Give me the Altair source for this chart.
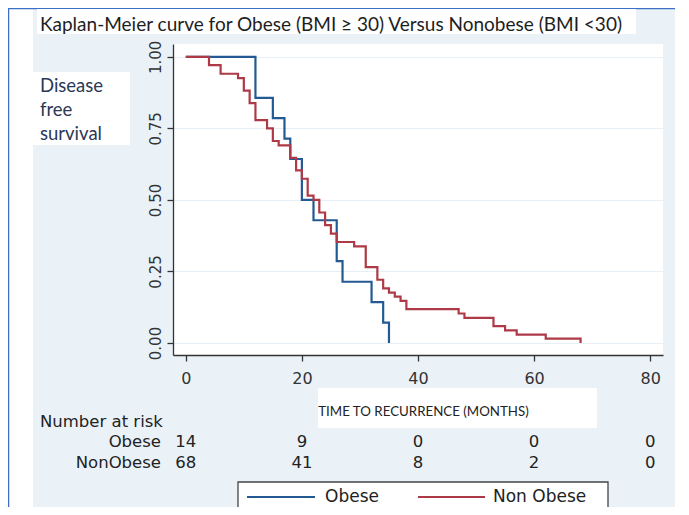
import altair as alt
import pandas as pd

# ---------------- data ----------------
title_text = "Kaplan-Meier curve for Obese (BMI ≥ 30) Versus Nonobese (BMI <30)"
ylabel_lines = ["Disease", "free", "survival"]
xtitle_text = "TIME TO RECURRENCE (MONTHS)"
risk_title = "Number at risk"
risk_row_labels = ["Obese", "NonObese"]

groups = ["Obese", "Non Obese"]
colors = ["#245a93", "#ad3a46"]

obese_time = [0, 12, 15, 17, 18, 20, 22, 26, 27, 32, 34, 35]
obese_surv = [1.0, 0.857, 0.786, 0.714, 0.643, 0.5, 0.429, 0.286, 0.214, 0.143, 0.071, 0.0]

non_time = [0, 4, 6, 9, 10, 11, 12, 14, 15, 16, 18, 19, 20, 21, 22, 23, 24, 25, 26, 29,
            31, 33, 34, 35, 36, 37, 38, 47, 48, 53, 55, 57, 62, 68]
non_surv = [1.0, 0.971, 0.941, 0.926, 0.882, 0.838, 0.779, 0.750, 0.706, 0.691,
            0.647, 0.603, 0.574, 0.515, 0.5, 0.456, 0.412, 0.382, 0.353, 0.338,
            0.265, 0.221, 0.191, 0.176, 0.162, 0.147, 0.118, 0.103, 0.088, 0.059,
            0.044, 0.029, 0.015, 0.0]

x_ticks = [0, 20, 40, 60, 80]
y_ticks = [0, 0.25, 0.5, 0.75, 1.0]
risk_times = [0, 20, 40, 60, 80]
risk_obese = [14, 9, 0, 0, 0]
risk_non = [68, 41, 8, 2, 0]

# ---------------- tables ----------------
df_obese = pd.DataFrame({"time": obese_time, "surv": obese_surv, "group": groups[0]})
df_non = pd.DataFrame({"time": non_time, "surv": non_surv, "group": groups[1]})
df_risk_o = pd.DataFrame({"time": risk_times, "n": risk_obese})
df_risk_n = pd.DataFrame({"time": risk_times, "n": risk_non})
one = pd.DataFrame({"k": [0]})

xs = alt.Scale(domain=[-2.2, 82.2], nice=False, zero=False)
ys = alt.Scale(domain=[-0.042, 1.045], nice=False, zero=False)
cs = alt.Scale(domain=groups, range=colors)

TICK_FONT = "DejaVu Sans"
CAL = "Lato"

x_enc = alt.X("time:Q", scale=xs, axis=alt.Axis(
    values=x_ticks, grid=False, title=xtitle_text, titleFont=CAL, titleFontSize=13.3,
    titleFontWeight="normal", titleColor="#222", titleX=250, titleY=56,
    titleBaseline="middle", labelFont=TICK_FONT, labelFontSize=16, labelColor="#333",
    labelPadding=9, tickSize=6, labelFlush=False, zindex=2))
y_enc = alt.Y("surv:Q", scale=ys, axis=alt.Axis(
    values=y_ticks, format=".2f", title=None, grid=True, gridColor="#e6eff5",
    labelFont=TICK_FONT, labelFontSize=15, labelColor="#333", labelAngle=270,
    labelAlign="center", labelBaseline="bottom", labelPadding=4, tickSize=6,
    labelFlush=False))


def rect(x, x2, y, y2, fill="white", stroke=None):
    kw = {"color": fill, "clip": False}
    if stroke:
        kw.update(stroke=stroke, strokeWidth=1.3)
    return alt.Chart(one).mark_rect(**kw).encode(
        x=alt.value(x), x2=alt.value(x2), y=alt.value(y), y2=alt.value(y2))


def hline(x, x2, y, color, width=2.2):
    return alt.Chart(one).mark_rule(color=color, strokeWidth=width, clip=False).encode(
        x=alt.value(x), x2=alt.value(x2), y=alt.value(y))


def label(text, x, y, size, font=TICK_FONT, align="left", color="#222"):
    return alt.Chart(one).mark_text(
        text=text, font=font, fontSize=size, align=align, baseline="middle",
        color=color, clip=False).encode(x=alt.value(x), y=alt.value(y))


# decorations (white boxes of the original composite figure)
strip = rect(-165, -140, -36, 470)
title_box = rect(-136, 463, -35, -10)
ylab_box = rect(-140, -43, 28, 101)
xt_box = rect(145, 424, 344, 384)
left_line = alt.Chart(one).mark_rule(color="#3d6fc6", strokeWidth=1.5, clip=False).encode(
    x=alt.value(-164.5), y=alt.value(-36), y2=alt.value(470))
top_line = hline(-165, 502, -35.5, "#3d6fc6", 1.5)

# legend box (manual)
leg_box = rect(65, 435, 438, 480, stroke="#444")
leg_line_o = hline(74, 142, 453, colors[0])
leg_text_o = label(groups[0], 152, 453, 17)
leg_line_n = hline(245, 312, 453, colors[1])
leg_text_n = label(groups[1], 320, 453, 17)

line_obese = alt.Chart(df_obese).mark_line(interpolate="step-after", strokeWidth=2.2).encode(
    x=x_enc, y=y_enc, color=alt.Color("group:N", scale=cs, legend=None))
line_non = alt.Chart(df_non).mark_line(interpolate="step-after", strokeWidth=2.2).encode(
    x="time:Q", y="surv:Q", color=alt.Color("group:N", scale=cs, legend=None))

title_mark = label(title_text, -133, -19, 19, font=CAL, color="#1e1e1e")
ylab_mark = alt.Chart(one).mark_text(
    text=ylabel_lines, font=CAL, fontSize=18.5, lineHeight=24, align="left",
    baseline="top", color="#2b3856", clip=False).encode(x=alt.value(-133), y=alt.value(33))

risk_head = label(risk_title, -133, 378, 16.5)
row_o = label(risk_row_labels[0], -12, 398, 16.5, align="right")
row_n = label(risk_row_labels[1], -12, 419, 16.5, align="right")
nums_o = alt.Chart(df_risk_o).mark_text(
    font=TICK_FONT, fontSize=16.5, align="center", baseline="middle", color="#222",
    clip=False).encode(x=alt.X("time:Q"), y=alt.value(398), text="n:Q")
nums_n = alt.Chart(df_risk_n).mark_text(
    font=TICK_FONT, fontSize=16.5, align="center", baseline="middle", color="#222",
    clip=False).encode(x=alt.X("time:Q"), y=alt.value(419), text="n:Q")

chart = alt.layer(
    strip, left_line, top_line, title_box, ylab_box, xt_box,
    line_obese, line_non, title_mark, ylab_mark,
    risk_head, row_o, row_n, nums_o, nums_n,
    leg_box, leg_line_o, leg_text_o, leg_line_n, leg_text_n,
).properties(
    width=490, height=311,
    autosize=alt.AutoSizeParams(type="none"),
    padding={"left": 165, "top": 36, "right": 12, "bottom": 152},
    background="#eaf2f8",
).configure_view(fill="white", stroke=None).configure_axis(
    domainColor="#333", domainWidth=1.3, tickColor="#333", tickWidth=1.3,
)

chart.save("out.html", embed_options={"renderer": "svg", "actions": False})
